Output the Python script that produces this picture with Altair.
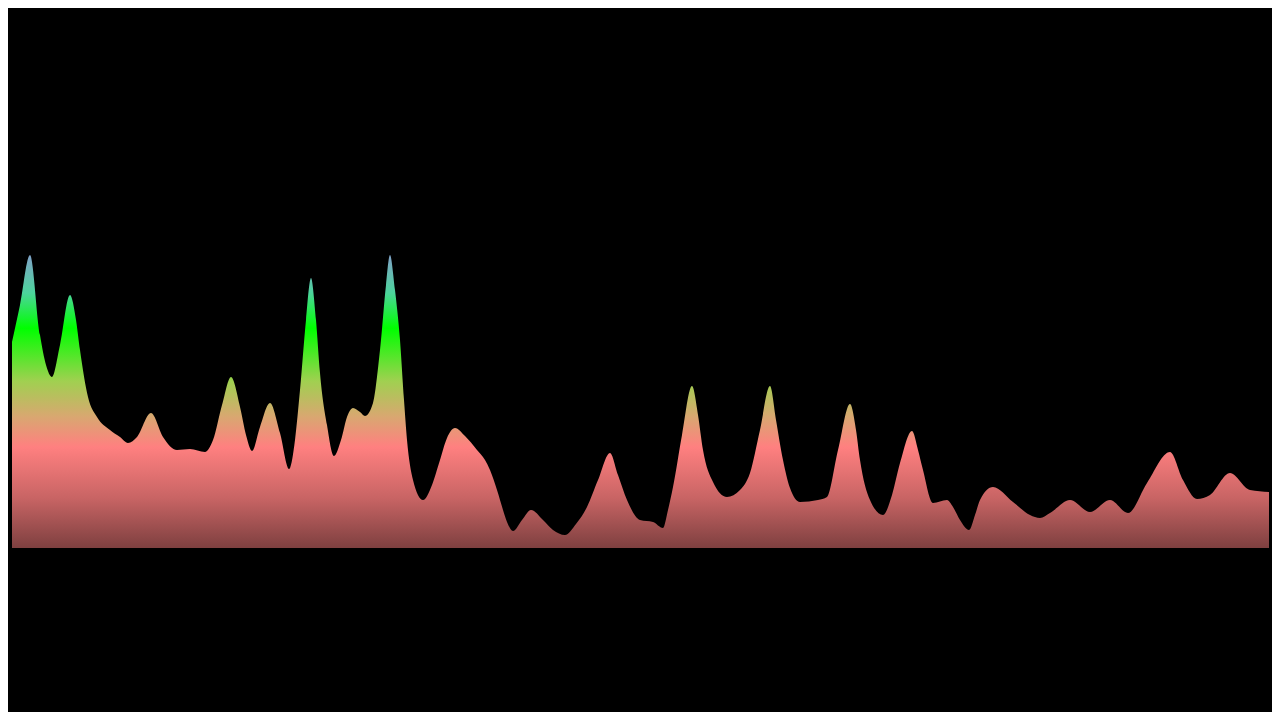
import altair as alt
import pandas as pd

# horizontal position (sample index along the track) and amplitude
t = [0, 8, 18, 28, 34, 40, 48, 58, 64, 68, 76, 85, 98, 108, 116, 125, 139, 151, 165, 178,
     193, 201, 210, 219, 228, 234, 240, 248, 258, 268, 277, 283, 288, 294, 299, 304, 308, 315,
     322, 329, 335, 341, 348, 353, 361, 368, 374, 378, 383, 388, 392, 395, 401, 411, 420, 428,
     435, 443, 453, 465, 473, 478, 485, 491, 495, 501, 510, 519, 531, 541, 553, 564, 575, 586,
     598, 606, 615, 628, 641, 651, 656, 661, 670, 680, 686, 691, 701, 715, 728, 738, 748, 758,
     764, 771, 778, 788, 806, 815, 826, 838, 844, 848, 858, 871, 880, 888, 900, 906, 911, 921,
     935, 941, 948, 957, 963, 968, 981, 1001, 1018, 1028, 1038, 1058, 1078, 1098, 1116, 1135,
     1158, 1171, 1185, 1198, 1218, 1238, 1257]
amp = [206, 243, 293, 213, 183, 171, 203, 253, 228, 198, 151, 131, 118, 111, 105, 111, 135,
       111, 98, 99, 96, 108, 143, 171, 141, 113, 97, 121, 145, 115, 79, 108, 158, 228, 270, 228,
       175, 123, 92, 108, 131, 140, 136, 132, 145, 198, 263, 293, 258, 208, 148, 108, 68, 48, 63,
       88, 110, 120, 112, 98, 88, 78, 58, 38, 26, 17, 28, 38, 28, 18, 13, 24, 41, 68, 95, 73, 48,
       28, 26, 20, 38, 61, 113, 162, 133, 98, 66, 51, 58, 75, 118, 162, 128, 88, 60, 46, 48, 51,
       98, 144, 118, 88, 48, 33, 53, 85, 117, 98, 78, 45, 48, 41, 28, 18, 33, 48, 61, 46, 33, 30,
       35, 48, 36, 48, 35, 65, 96, 68, 49, 53, 75, 58, 56]

df = pd.DataFrame({"t": t, "amp": amp})

fill = alt.Gradient(
    gradient="linear",
    x1=0, x2=0, y1=0, y2=1,
    stops=[
        alt.GradientStop(color="#80a2c8", offset=0.0),
        alt.GradientStop(color="#4cd49c", offset=0.13),
        alt.GradientStop(color="#00ff00", offset=0.25),
        alt.GradientStop(color="#a0d050", offset=0.43),
        alt.GradientStop(color="#d8a870", offset=0.55),
        alt.GradientStop(color="#ff8080", offset=0.655),
        alt.GradientStop(color="#c86464", offset=0.83),
        alt.GradientStop(color="#7e4040", offset=1.0),
    ],
)

chart = (
    alt.Chart(df)
    .mark_area(interpolate="monotone", fill=fill, strokeWidth=0)
    .encode(
        x=alt.X("t:Q", axis=None, scale=alt.Scale(domain=[0, 1258], nice=False, zero=False)),
        y=alt.Y("amp:Q", axis=None, scale=alt.Scale(domain=[0, 300], nice=False)),
    )
    .properties(
        width=1258,
        height=300,
        background="#000000",
        padding={"left": 4, "top": 240, "right": 2, "bottom": 164},
        autosize=alt.AutoSizeParams(type="none"),
    )
    .configure_view(stroke=None, fill="#000000")
)

chart.save("out.html", embed_options={"renderer": "svg", "actions": False})
